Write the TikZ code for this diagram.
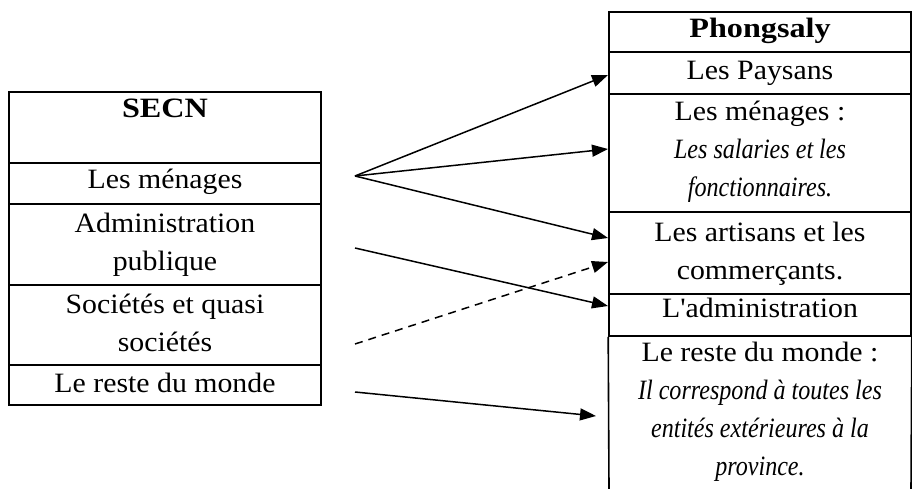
\documentclass[tikz,border=0pt]{standalone}
\usepackage{fontspec}
\setmainfont{Liberation Serif}[Ligatures=TeXOff,FakeStretch=1.065,
  ItalicFeatures={FakeStretch=0.86},BoldFeatures={FakeStretch=1.15}]
\usetikzlibrary{arrows.meta}
\begin{document}
\begin{tikzpicture}[x=1pt,y=-1pt,
  cellbox/.style={draw,line width=1.6pt,inner sep=0pt},
  lcell/.style={cellbox,minimum width=312pt},
  rcell/.style={cellbox,minimum width=302pt},
  txt/.style={font=\fontsize{28}{38}\selectfont,align=center,inner sep=0pt,
    text height=20pt,text depth=6pt,anchor=north},
  flow/.style={line width=1.5pt,-{Triangle[length=16pt,width=12pt]}},
  dflow/.style={flow,dash pattern=on 8pt off 6pt}]
\useasboundingbox (0,0) rectangle (912,489);
% left table cells
\node[lcell,minimum height=71pt] (l1) at (165,127.5) {};
\node[lcell,minimum height=41pt] (l2) at (165,183.5) {};
\node[lcell,minimum height=81pt] (l3) at (165,244.5) {};
\node[lcell,minimum height=80pt] (l4) at (165,325) {};
\node[lcell,minimum height=40pt] (l5) at (165,385) {};
% left texts (y = last baseline - 20)
\node[txt] (tl1) at (165,97) {\textbf{SECN}};
\node[txt] (tl2) at (165,168) {Les ménages};
\node[txt] (tl3) at (165,250) {Administration\\publique};
\node[txt] (tl4) at (165,331) {Sociétés et quasi\\sociétés};
\node[txt] (tl5) at (165,372) {Le reste du monde};
% right table cells
\node[rcell,minimum height=40pt] (r1) at (760,32) {};
\node[rcell,minimum height=42pt] (r2) at (760,73) {};
\node[rcell,minimum height=118pt] (r3) at (760,153) {};
\node[rcell,minimum height=82pt] (r4) at (760,253) {};
\node[rcell,minimum height=42pt] (r5) at (760,315) {};
\coordinate (r6bl) at (609,489);
\coordinate (r6br) at (911,489);
\draw[line width=1.6pt] (r5.south west) -- (r6bl);
\draw[line width=1.6pt] (r5.south east) -- (r6br);
% right texts
\node[txt] (tr1) at (760,17) {\textbf{Phongsaly}};
\node[txt] (tr2) at (760,59) {Les Paysans};
\node[txt] (tr3) at (760,176) {Les ménages :\\\textit{Les salaries et les}\\\textit{fonctionnaires.}};
\node[txt] (tr4) at (760,259) {Les artisans et les\\commerçants.};
\node[txt] (tr5) at (760,297) {L'administration};
\node[txt] (tr6) at (760,455) {Le reste du monde :\\\textit{Il correspond à toutes les}\\\textit{entités extérieures à la}\\\textit{province.}};
% connectors
\coordinate (s1) at (355,176);
\coordinate (s2) at (355,248);
\coordinate (s3) at (355,344);
\coordinate (s4) at (355,392);
\coordinate (t1) at (608,75);
\coordinate (t2) at (608,149);
\coordinate (t3) at (608,238);
\coordinate (t4) at (608,306);
\coordinate (t5) at (608,262);
\coordinate (t6) at (596,416);
\draw[flow] (s1) -- (t1);
\draw[flow] (s1) -- (t2);
\draw[flow] (s1) -- (t3);
\draw[flow] (s2) -- (t4);
\draw[dflow] (s3) -- (t5);
\draw[flow] (s4) -- (t6);
\end{tikzpicture}
\end{document}
